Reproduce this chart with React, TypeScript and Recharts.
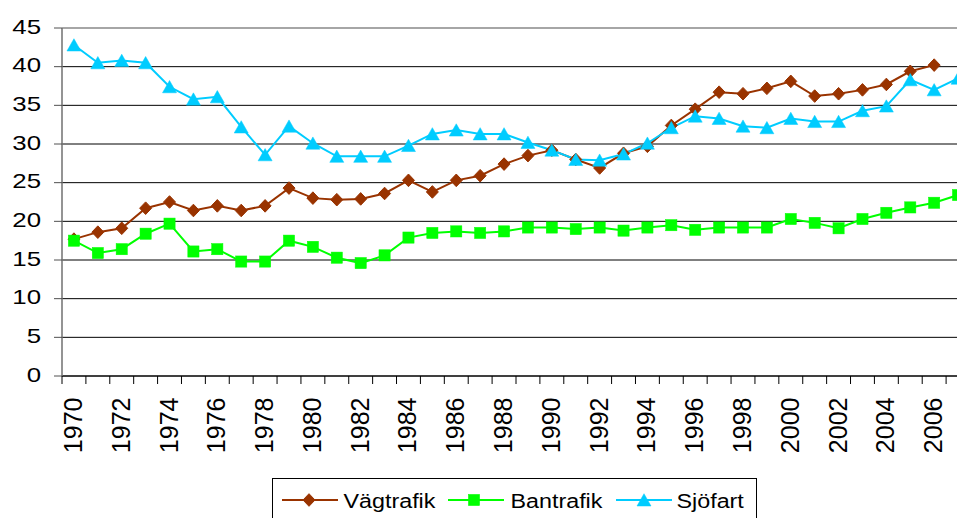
import React from 'react';
import { LineChart, Line, XAxis, YAxis, CartesianGrid, Legend, ReferenceLine } from 'recharts';

const years = [
  '1970', '1971', '1972', '1973', '1974', '1975', '1976', '1977', '1978', '1979',
  '1980', '1981', '1982', '1983', '1984', '1985', '1986', '1987', '1988', '1989',
  '1990', '1991', '1992', '1993', '1994', '1995', '1996', '1997', '1998', '1999',
  '2000', '2001', '2002', '2003', '2004', '2005', '2006', '2007',
];

const vagtrafik: (number | null)[] = [
  17.7, 18.6, 19.1, 21.7, 22.5, 21.4, 22.0, 21.4, 22.0, 24.3,
  23.0, 22.8, 22.9, 23.6, 25.3, 23.8, 25.3, 25.9, 27.4, 28.5,
  29.2, 28.0, 26.9, 28.8, 29.7, 32.4, 34.5, 36.7, 36.5, 37.2,
  38.1, 36.2, 36.5, 37.0, 37.7, 39.4, 40.2, null,
];

const bantrafik = [
  17.5, 15.9, 16.4, 18.4, 19.7, 16.1, 16.4, 14.8, 14.8, 17.5,
  16.7, 15.3, 14.6, 15.6, 17.9, 18.5, 18.7, 18.5, 18.7, 19.2,
  19.2, 19.0, 19.2, 18.8, 19.2, 19.5, 18.9, 19.2, 19.2, 19.2,
  20.3, 19.8, 19.1, 20.3, 21.1, 21.8, 22.4, 23.4,
];

const sjofart = [
  42.8, 40.5, 40.8, 40.5, 37.4, 35.8, 36.1, 32.2, 28.6, 32.3,
  30.1, 28.4, 28.4, 28.4, 29.8, 31.3, 31.8, 31.3, 31.3, 30.2,
  29.2, 28.0, 27.9, 28.7, 30.1, 32.1, 33.6, 33.3, 32.3, 32.1,
  33.3, 32.9, 32.9, 34.3, 34.9, 38.3, 37.0, 38.5,
];

const yTicks = [0, 5, 10, 15, 20, 25, 30, 35, 40, 45];

const seriesNames = ['Vägtrafik', 'Bantrafik', 'Sjöfart'];
const seriesColors = ['#993300', '#00FF00', '#00CCFF'];
const seriesShapes = ['diamond', 'square', 'triangle'];

const data = years.map((year, i) => ({
  year,
  v: vagtrafik[i],
  b: bantrafik[i],
  s: sjofart[i],
}));

const FONT = '"Liberation Sans", Arial, Helvetica, sans-serif';
const CHART_W = 970;
const CHART_H = 560;
const Y_AXIS_W = 62;
const PLOT_TOP = 28;
const PLOT_H = 348;
const X_AXIS_H = CHART_H - PLOT_TOP - PLOT_H;
const HALF = (CHART_W - Y_AXIS_W) / years.length / 2;

function Marker({ shape, cx, cy, color }: { shape: string; cx: number; cy: number; color: string }) {
  if (shape === 'diamond') {
    return (
      <polygon
        points={`${cx},${cy - 6.3} ${cx + 6},${cy} ${cx},${cy + 6.3} ${cx - 6},${cy}`}
        fill={color}
        stroke={color}
        strokeWidth={1}
      />
    );
  }
  if (shape === 'square') {
    return <rect x={cx - 5.6} y={cy - 5.6} width={11.2} height={11.2} fill={color} stroke={color} strokeWidth={0.5} />;
  }
  return (
    <polygon
      points={`${cx},${cy - 6.3} ${cx + 7},${cy + 6} ${cx - 7},${cy + 6}`}
      fill={color}
      stroke={color}
      strokeWidth={0.5}
    />
  );
}

const makeDot = (idx: number) => (p: any) => {
  const key = `dot-${idx}-${p.index}`;
  if (p.cx == null || p.cy == null || p.value == null || (Array.isArray(p.value) && p.value[1] == null)) {
    return <g key={key} />;
  }
  return (
    <g key={key}>
      <Marker shape={seriesShapes[idx]} cx={p.cx} cy={p.cy} color={seriesColors[idx]} />
    </g>
  );
};

const XTick = (props: any) => {
  const { x, y, payload, index } = props;
  const label = String(payload.value);
  const show = Number(label) % 2 === 0;
  return (
    <g>
      <line x1={x - HALF} x2={x - HALF} y1={y} y2={y + 8} stroke="#000" strokeWidth={1} />
      {index === years.length - 1 && (
        <line x1={x + HALF} x2={x + HALF} y1={y} y2={y + 8} stroke="#000" strokeWidth={1} />
      )}
      {show && (
        <text
          transform={`translate(${x + 8},${y + 21.5}) rotate(-90)`}
          textAnchor="end"
          fontSize={25}
          fontFamily={FONT}
          fill="#000"
        >
          {label}
        </text>
      )}
    </g>
  );
};

const YTick = (props: any) => {
  const { x, y, payload } = props;
  return (
    <text
      transform={`translate(${x - 13},${y + 5.5}) scale(1.23,1)`}
      textAnchor="end"
      fontSize={21}
      fontFamily={FONT}
      fill="#000"
    >
      {payload.value}
    </text>
  );
};

const legendLayout = [
  { x1: 9, x2: 65, m: 36, t: 70.5 },
  { x1: 175, x2: 231, m: 201, t: 237.5 },
  { x1: 343, x2: 399, m: 371, t: 403.5 },
];

const LegendContent = (props: any) => {
  const payload = props.payload || [];
  return (
    <div
      style={{
        width: 485,
        height: 50,
        border: '1px solid #000',
        boxSizing: 'border-box',
        background: '#fff',
      }}
    >
      <svg width={483} height={48} style={{ display: 'block' }}>
        {payload.map((item: any) => {
          const i = seriesNames.indexOf(String(item.value));
          if (i < 0) return null;
          const L = legendLayout[i];
          const cy = 21;
          return (
            <g key={`leg-${i}`}>
              <line x1={L.x1} x2={L.x2} y1={cy} y2={cy} stroke={seriesColors[i]} strokeWidth={2} />
              <Marker shape={seriesShapes[i]} cx={L.m} cy={cy} color={seriesColors[i]} />
              <text
                transform={`translate(${L.t},${cy + 7.5}) scale(1.11,1)`}
                fontSize={21}
                fontFamily={FONT}
                fill="#000"
              >
                {item.value}
              </text>
            </g>
          );
        })}
      </svg>
    </div>
  );
};

export default function App() {
  return (
    <div
      style={{
        position: 'absolute',
        left: 0,
        top: 0,
        width: 957,
        height: 518,
        overflow: 'hidden',
        background: '#fff',
      }}
    >
      <LineChart
        width={CHART_W}
        height={CHART_H}
        data={data}
        margin={{ top: PLOT_TOP, right: 0, bottom: 0, left: 0 }}
        style={{ fontFamily: FONT }}
      >
        <CartesianGrid vertical={false} stroke="#000" strokeWidth={1} horizontalValues={yTicks} />
        <XAxis
          dataKey="year"
          type="category"
          interval={0}
          height={X_AXIS_H}
          padding={{ left: HALF, right: HALF }}
          tickSize={0}
          tickMargin={0}
          tickLine={false}
          axisLine={{ stroke: '#000', strokeWidth: 1 }}
          tick={<XTick />}
        />
        <YAxis
          width={Y_AXIS_W}
          domain={[0, 45]}
          ticks={yTicks}
          interval={0}
          tickSize={8}
          tickMargin={0}
          tickLine={{ stroke: '#505050', strokeWidth: 1 }}
          axisLine={{ stroke: '#707070', strokeWidth: 1.5 }}
          tick={<YTick />}
        />
        <ReferenceLine y={45} stroke="#a6a6a6" strokeWidth={2} />
        <Legend
          layout="horizontal"
          verticalAlign="middle"
          align="center"
          itemSorter={null as any}
          wrapperStyle={{ left: 272, top: 478, width: 485 }}
          content={<LegendContent />}
        />
        <Line
          type="linear"
          dataKey="v"
          name={seriesNames[0]}
          stroke={seriesColors[0]}
          strokeWidth={2}
          dot={makeDot(0)}
          activeDot={false}
          isAnimationActive={false}
        />
        <Line
          type="linear"
          dataKey="b"
          name={seriesNames[1]}
          stroke={seriesColors[1]}
          strokeWidth={2}
          dot={makeDot(1)}
          activeDot={false}
          isAnimationActive={false}
        />
        <Line
          type="linear"
          dataKey="s"
          name={seriesNames[2]}
          stroke={seriesColors[2]}
          strokeWidth={2}
          dot={makeDot(2)}
          activeDot={false}
          isAnimationActive={false}
        />
      </LineChart>
    </div>
  );
}
